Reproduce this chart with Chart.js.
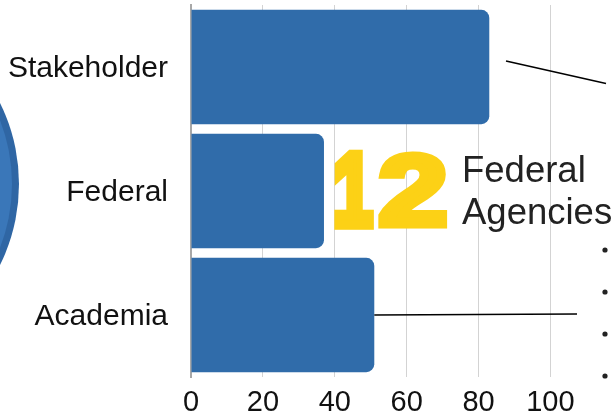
<!DOCTYPE html>
<html>
<head>
<meta charset="utf-8">
<script src="https://cdn.jsdelivr.net/npm/chart.js@4"></script>
<style>
  html, body { margin: 0; padding: 0; background: #fff; }
  #wrap { width: 614px; height: 413px; position: relative; }
</style>
</head>
<body>
<div id="wrap"><canvas id="c" width="614" height="413"></canvas></div>
<script>
// ---- data ----
const categories = ['Stakeholder', 'Federal', 'Academia'];
const values = [83, 37, 51];
const tickValues = [0, 20, 40, 60, 80, 100];
const bigNumber = '12';
const bigNumberCaption = ['Federal', 'Agencies'];
const bulletCount = 4;

const BAR_COLOR = '#306CAA';
const FONT = '"Liberation Sans", Arial, sans-serif';

function drawFitted(ctx, ch, x0, y0, x1, y1, sw, color) {
  ctx.save();
  ctx.font = 'normal normal 700 110px "Liberation Sans", Arial, sans-serif';
  ctx.textBaseline = 'alphabetic';
  ctx.textAlign = 'left';
  const m = ctx.measureText(ch);
  const inkW = m.actualBoundingBoxLeft + m.actualBoundingBoxRight;
  const inkH = m.actualBoundingBoxAscent + m.actualBoundingBoxDescent;
  const w = (x1 - x0) - sw, h = (y1 - y0) - sw;
  ctx.translate(x0 + sw / 2, y0 + sw / 2);
  const sx = w / inkW, sy = h / inkH;
  ctx.scale(sx, sy);
  ctx.fillStyle = color;
  ctx.strokeStyle = color;
  ctx.lineJoin = 'miter';
  ctx.lineWidth = sw / Math.sqrt(sx * sy);
  ctx.fillText(ch, m.actualBoundingBoxLeft, m.actualBoundingBoxAscent);
  ctx.strokeText(ch, m.actualBoundingBoxLeft, m.actualBoundingBoxAscent);
  ctx.restore();
}

const decorations = {
  id: 'decorations',
  afterDraw(chart) {
    const ctx = chart.ctx;
    const xs = chart.scales.x;
    const ys = chart.scales.y;
    ctx.save();

    // partial circle at the left edge
    ctx.beginPath();
    ctx.arc(-163, 184, 182, 0, Math.PI * 2);
    ctx.fillStyle = '#2F66A4';
    ctx.fill();
    ctx.beginPath();
    ctx.arc(-163, 184, 175, 0, Math.PI * 2);
    ctx.fillStyle = '#3A77B9';
    ctx.fill();

    // big "12", each digit fitted into its box
    drawFitted(ctx, bigNumber[0], 333, 150, 375, 228.5, 8, '#FCD116');
    drawFitted(ctx, bigNumber[1], 378, 150, 447, 228.5, 8, '#FCD116');

    // caption
    ctx.fillStyle = '#222222';
    ctx.font = '36.5px ' + FONT;
    ctx.fillText(bigNumberCaption[0], 462, 181.5);
    ctx.fillText(bigNumberCaption[1], 462, 224.3);

    // leader lines
    ctx.strokeStyle = '#000';
    ctx.lineWidth = 1.5;
    ctx.beginPath();
    ctx.moveTo(506, 61);
    ctx.lineTo(606, 83.5);
    ctx.stroke();

    const ay = ys.getPixelForValue(2);
    ctx.beginPath();
    ctx.moveTo(xs.getPixelForValue(values[2]), ay);
    ctx.lineTo(577, ay - 1);
    ctx.stroke();

    // bullets
    ctx.fillStyle = '#222';
    for (let i = 0; i < bulletCount; i++) {
      ctx.beginPath();
      ctx.arc(605, 250 + i * 42, 2.6, 0, Math.PI * 2);
      ctx.fill();
    }
    ctx.restore();
  }
};

new Chart(document.getElementById('c'), {
  type: 'bar',
  data: {
    labels: categories,
    datasets: [{
      data: values,
      backgroundColor: BAR_COLOR,
      borderWidth: 0,
      borderRadius: 8,
      borderSkipped: 'start',
      categoryPercentage: 1,
      barPercentage: 0.922
    }]
  },
  options: {
    indexAxis: 'y',
    responsive: false,
    animation: false,
    events: [],
    layout: { padding: { top: 5, right: 0, left: 0, bottom: 0 } },
    plugins: { legend: { display: false }, tooltip: { enabled: false } },
    scales: {
      x: {
        min: 0,
        max: 117.7,
        afterBuildTicks: s => { s.ticks = tickValues.map(v => ({ value: v })); },
        afterFit: s => { s.height = 36; s.paddingLeft = 0; s.paddingRight = 0; },
        grid: { color: '#D3D3D3', lineWidth: 1, drawTicks: false },
        border: { display: false },
        ticks: { padding: 9, color: '#111', font: { family: FONT, size: 29 } }
      },
      y: {
        afterFit: s => { s.width = 191; s.paddingTop = 0; s.paddingBottom = 0; },
        grid: { display: false, drawTicks: false },
        border: { display: true, color: '#A8A8A8', width: 2 },
        ticks: { padding: 23, labelOffset: 2, color: '#111', font: { family: FONT, size: 30 } }
      }
    }
  },
  plugins: [decorations]
});
</script>
</body>
</html>
